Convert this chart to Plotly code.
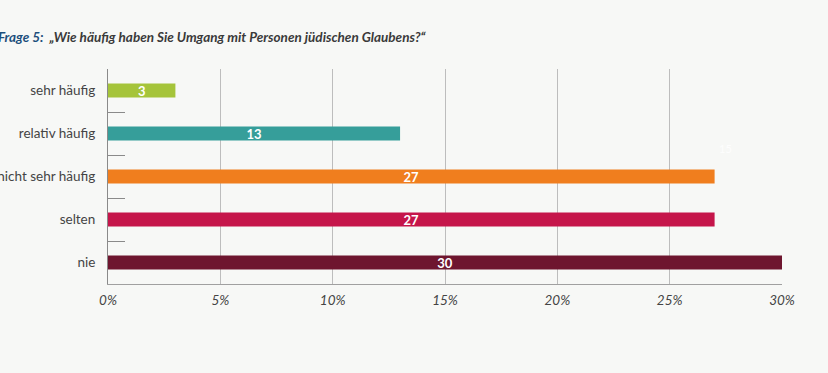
import plotly.graph_objects as go

categories = ["sehr häufig", "relativ häufig", "nicht sehr häufig", "selten", "nie"]
values = [3, 13, 27, 27, 30]
colors = ["#a5c43a", "#369e9a", "#f07e1e", "#c5154a", "#6e162f"]
x_ticks = [0, 5, 10, 15, 20, 25, 30]
x_tick_labels = ["0%", "5%", "10%", "15%", "20%", "25%", "30%"]

fig = go.Figure()
fig.add_trace(go.Bar(
    x=values, y=categories, orientation="h",
    marker=dict(color=colors, line=dict(width=0)),
    width=0.33,
    text=[str(v) for v in values],
    textposition="inside", insidetextanchor="middle", textangle=0,
    constraintext="none",
    textfont=dict(family="Lato", size=13, color="white", weight="bold"),
    hoverinfo="skip",
))

fig.add_annotation(x=27.5, y=1.35, text="15", showarrow=False,
                   font=dict(family="Lato", size=11, color="rgba(255,255,255,0.85)"))

fig.add_annotation(
    xref="paper", yref="paper", x=-112 / 674, y=1 + 32 / 215,
    xanchor="left", yanchor="middle", showarrow=False,
    text="<span style='color:#1d4f7c'>Frage 5:</span>  „Wie häufig haben Sie Umgang mit Personen jüdischen Glaubens?“",
    font=dict(family="Lato", size=13.5, color="#3a3a3a", style="italic", weight="bold"),
)

fig.update_layout(
    width=828, height=373,
    margin=dict(l=108, r=46, t=69, b=89),
    paper_bgcolor="#f7f8f6", plot_bgcolor="#f7f8f6",
    showlegend=False,
    font=dict(family="Lato", color="#444"),
    xaxis=dict(
        range=[0, 30], tickvals=x_ticks, ticktext=x_tick_labels,
        showgrid=True, gridcolor="#bdbdbd", gridwidth=1,
        showline=True, linecolor="#a0a0a0", linewidth=1, mirror=False,
        zeroline=False, ticks="", automargin=False,
        tickfont=dict(family="Lato", size=13.5, color="#444", style="italic"),
        ticklabelstandoff=4,
    ),
    yaxis=dict(
        autorange="reversed", type="category", automargin=False,
        showline=True, linecolor="#8a8a8a", linewidth=1,
        ticks="inside", tickson="boundaries", ticklen=17, tickcolor="#8a8a8a",
        showgrid=False,
        tickfont=dict(family="Lato", size=13.5, color="#444"),
        ticklabelstandoff=9,
    ),
)

fig.write_html("out.html", config={"displayModeBar": False},
               post_script="document.body.style.margin='0';")
